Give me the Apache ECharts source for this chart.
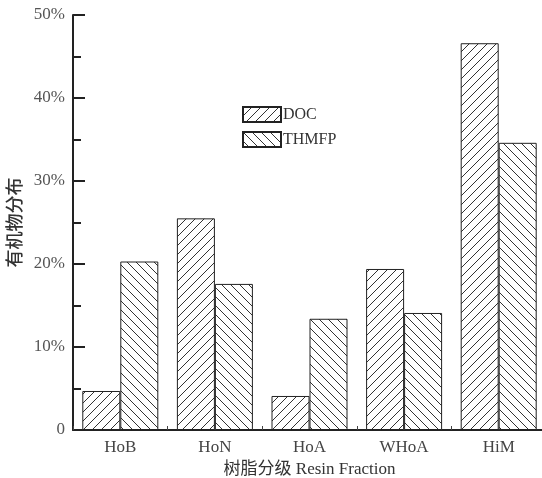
<!DOCTYPE html>
<html>
<head>
<meta charset="utf-8">
<script src="https://cdn.jsdelivr.net/npm/echarts@6/dist/echarts.min.js"></script>
<style>html,body{margin:0;padding:0;background:#fff;}#c{width:542px;height:478px;}</style>
</head>
<body>
<div id="c"></div>
<script>
const categories = ['HoB', 'HoN', 'HoA', 'WHoA', 'HiM'];
const docValues = [0.047, 0.255, 0.041, 0.194, 0.466];
const thmfpValues = [0.203, 0.176, 0.134, 0.141, 0.346];
const seriesNames = ['DOC', 'THMFP'];
const yTicks = [0, 0.1, 0.2, 0.3, 0.4, 0.5];

function hatch(forward) {
  const s = 9;
  const c = document.createElement('canvas');
  c.width = s; c.height = s;
  const g = c.getContext('2d');
  g.fillStyle = '#fff';
  g.fillRect(0, 0, s, s);
  g.strokeStyle = '#333';
  g.lineWidth = 1;
  g.beginPath();
  if (forward) {
    g.moveTo(-1, s + 1); g.lineTo(s + 1, -1);
    g.moveTo(-1, 1); g.lineTo(1, -1);
    g.moveTo(s - 1, s + 1); g.lineTo(s + 1, s - 1);
  } else {
    g.moveTo(-1, -1); g.lineTo(s + 1, s + 1);
    g.moveTo(s - 1, -1); g.lineTo(s + 1, 1);
    g.moveTo(-1, s - 1); g.lineTo(1, s + 1);
  }
  g.stroke();
  return c;
}

const chart = echarts.init(document.getElementById('c'), null, {renderer: 'canvas'});
const serif = '"Liberation Serif", "DejaVu Serif", serif';
chart.setOption({
  animation: false,
  backgroundColor: '#fff',
  grid: {left: 73, right: -4, top: 15, bottom: 48, containLabel: false, outerBoundsMode: 'none'},
  legend: {
    orient: 'vertical', left: 242, top: 106, itemGap: 8, padding: 0,
    itemWidth: 38, itemHeight: 15,
    icon: 'rect',
    textStyle: {fontFamily: serif, fontSize: 16, color: '#333', padding: [0, 0, 0, -3]},
    data: seriesNames
  },
  xAxis: {
    type: 'category', data: categories,
    name: '树脂分级 Resin Fraction', nameLocation: 'middle', nameGap: 29,
    nameTextStyle: {fontFamily: serif + ', "Noto Sans CJK SC"', fontSize: 17, color: '#333', verticalAlign: 'top'},
    axisLine: {lineStyle: {color: '#222', width: 2}},
    axisTick: {show: true, inside: true, length: 4, lineStyle: {color: '#444'}},
    axisLabel: {fontFamily: serif, fontSize: 17, color: '#444', margin: 9}
  },
  yAxis: {
    type: 'value', min: 0, max: 0.5, interval: 0.1,
    name: '有机物分布', nameLocation: 'middle', nameGap: 49, nameRotate: 90,
    nameTextStyle: {fontFamily: '"Noto Sans CJK SC", sans-serif', fontSize: 18, color: '#333', fontWeight: 500},
    axisLine: {show: true, lineStyle: {color: '#222', width: 2}},
    axisTick: {show: true, inside: true, length: 12, lineStyle: {color: '#222', width: 2}},
    minorTick: {show: true, splitNumber: 2, length: 8, lineStyle: {color: '#222', width: 2}},
    splitLine: {show: false},
    axisLabel: {
      fontFamily: serif, fontSize: 17, color: '#555', margin: 8,
      formatter: v => (v === 0 ? '0' : Math.round(v * 100) + '%')
    }
  },
  series: [
    {
      name: seriesNames[0], type: 'bar', data: docValues, barWidth: 38, barGap: '0%',
      itemStyle: {color: {image: hatch(true), repeat: 'repeat'}, borderColor: '#222', borderWidth: 1}
    },
    {
      name: seriesNames[1], type: 'bar', data: thmfpValues, barWidth: 38, barGap: '0%',
      itemStyle: {color: {image: hatch(false), repeat: 'repeat'}, borderColor: '#222', borderWidth: 1}
    }
  ]
});
</script>
</body>
</html>
